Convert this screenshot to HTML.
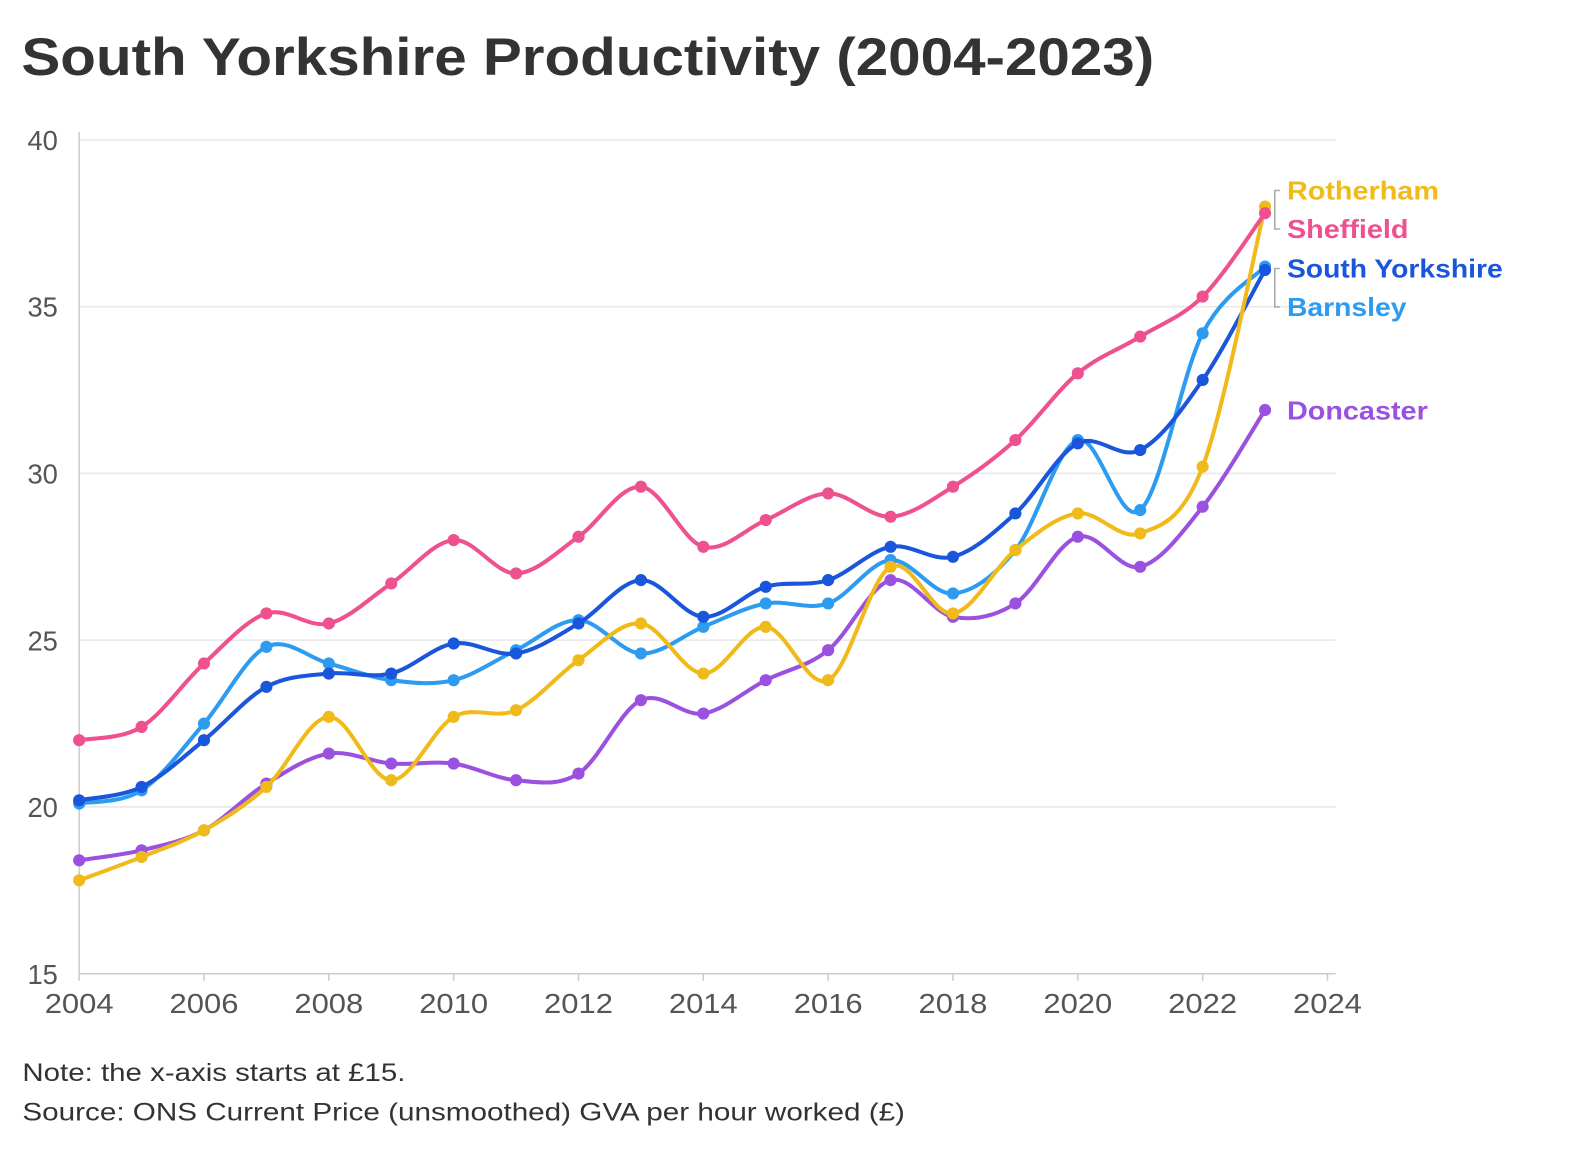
<!DOCTYPE html>
<html><head><meta charset="utf-8"><style>
body{margin:0;background:#fff;width:1588px;height:1148px;overflow:hidden;font-family:"Liberation Sans",sans-serif}
</style></head><body>
<svg id="chart" width="1588" height="1148" viewBox="0 0 1567 1133" xmlns="http://www.w3.org/2000/svg" font-family="Liberation Sans, sans-serif">
<text x="21" y="74" font-size="52" font-weight="bold" fill="#333" textLength="1118" lengthAdjust="spacingAndGlyphs">South Yorkshire Productivity (2004-2023)</text>
<g id="grid"></g><g id="series"></g><g id="labels"></g>
<text x="22" y="1067" font-size="25" fill="#333" textLength="378" lengthAdjust="spacingAndGlyphs">Note: the x-axis starts at £15.</text>
<text x="22" y="1106" font-size="25" fill="#333" textLength="871" lengthAdjust="spacingAndGlyphs">Source: ONS Current Price (unsmoothed) GVA per hour worked (£)</text>
</svg>
<script>
const years=[2004,2005,2006,2007,2008,2009,2010,2011,2012,2013,2014,2015,2016,2017,2018,2019,2020,2021,2022,2023];
const yTicks=[15,20,25,30,35,40];
const xTicks=[2004,2006,2008,2010,2012,2014,2016,2018,2020,2022,2024];
const sheffield=[22.0,22.4,24.3,25.8,25.5,26.7,28.0,27.0,28.1,29.6,27.8,28.6,29.4,28.7,29.6,31.0,33.0,34.1,35.3,37.8];
const southYorkshire=[20.2,20.6,22.0,23.6,24.0,24.0,24.9,24.6,25.5,26.8,25.7,26.6,26.8,27.8,27.5,28.8,30.9,30.7,32.8,36.1];
const barnsley=[20.1,20.5,22.5,24.8,24.3,23.8,23.8,24.7,25.6,24.6,25.4,26.1,26.1,27.4,26.4,27.7,31.0,28.9,34.2,36.2];
const rotherham=[17.8,18.5,19.3,20.6,22.7,20.8,22.7,22.9,24.4,25.5,24.0,25.4,23.8,27.2,25.8,27.7,28.8,28.2,30.2,38.0];
const doncaster=[18.4,18.7,19.3,20.7,21.6,21.3,21.3,20.8,21.0,23.2,22.8,23.8,24.7,26.8,25.7,26.1,28.1,27.2,29.0,31.9];
const NS="http://www.w3.org/2000/svg";
const xS=v=>78+(v-2004)*61.6, yS=v=>138+(40-v)*32.92;
function mk(t,a,p){const e=document.createElementNS(NS,t);for(const k in a)e.setAttribute(k,a[k]);p.appendChild(e);return e;}
const grid=document.getElementById('grid');
yTicks.forEach(t=>{
 const l=mk('line',{x1:78,x2:1318,y1:yS(t),y2:yS(t),stroke:'#e8e8e8','stroke-width':1.5},grid);
 
 
 const tx=mk('text',{x:57,y:yS(t)+10,'font-size':27,fill:'#555','text-anchor':'end'},grid);tx.textContent=t;
 
 
});
const ax=mk('line',{x1:78,x2:78,y1:130,y2:961,stroke:'#ccc','stroke-width':1.5},grid);


const bx=mk('line',{x1:78,x2:1318,y1:961,y2:961,stroke:'#ccc','stroke-width':1.5},grid);


xTicks.forEach(t=>{
 mk('line',{x1:xS(t),x2:xS(t),y1:961,y2:968,stroke:'#ccc','stroke-width':1.5},grid);
 const tx=mk('text',{x:xS(t),y:1000,'font-size':27,fill:'#555','text-anchor':'middle',textLength:68,lengthAdjust:'spacingAndGlyphs'},grid);tx.textContent=t;
 
 
});
function path(vals){
 const p=vals.map((v,i)=>[xS(years[i]),yS(v)]);let d=`M${p[0][0]},${p[0][1]}`;
 for(let i=0;i<p.length-1;i++){const p0=p[i-1]||p[i],p1=p[i],p2=p[i+1],p3=p[i+2]||p2;
  d+=`C${p1[0]+(p2[0]-p0[0])/6},${p1[1]+(p2[1]-p0[1])/6} ${p2[0]-(p3[0]-p1[0])/6},${p2[1]-(p3[1]-p1[1])/6} ${p2[0]},${p2[1]}`;}
 return d;}
const seriesG=document.getElementById('series');
const S=[['doncaster',doncaster,'#9b51e0'],['barnsley',barnsley,'#2d9cf0'],['south-yorkshire',southYorkshire,'#1a56db'],['rotherham',rotherham,'#f0bb1a'],['sheffield',sheffield,'#ee5090']];
S.forEach(([n,v,c])=>{
 const g=mk('g',{},seriesG);
 
 
 mk('path',{d:path(v),fill:'none',stroke:c,'stroke-width':4},g);
 v.forEach((val,i)=>{const dt=mk('circle',{cx:xS(years[i]),cy:yS(val),r:6,fill:c},g);
  
  });
});
const lg=document.getElementById('labels');
[['Rotherham','#f0bb1a',188,150],['Sheffield','#ee5090',226,120],['South Yorkshire','#1a56db',265,213],['Barnsley','#2d9cf0',303,118],['Doncaster','#9b51e0',405,139]].forEach(([t,c,y,w])=>{
 const tx=mk('text',{x:1270,y:y+9,'font-size':26,'font-weight':'bold',fill:c,textLength:w,lengthAdjust:'spacingAndGlyphs'},lg);tx.textContent=t;
 
 
});
mk('path',{d:'M1263,188 H1258 V226 H1263 M1263,265 H1258 V303 H1263',fill:'none',stroke:'#aaa','stroke-width':1.5},lg);
</script>
</body></html>
